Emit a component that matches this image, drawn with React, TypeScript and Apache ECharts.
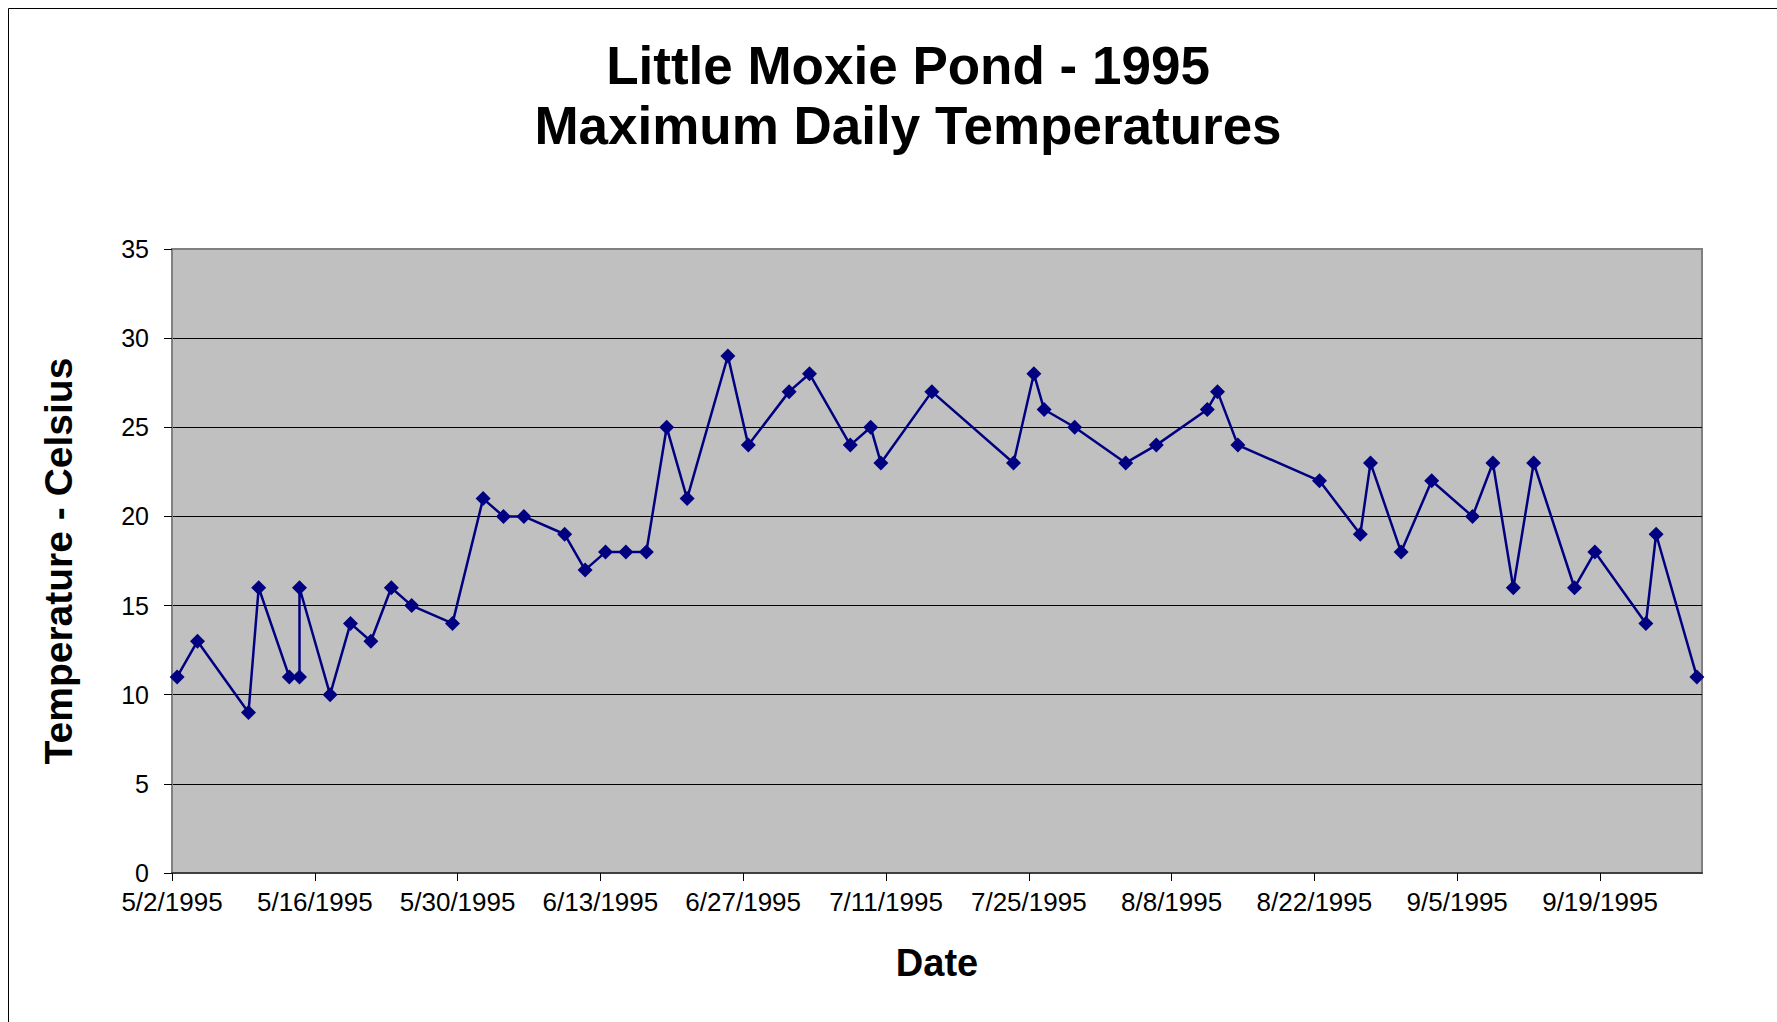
import React, { useEffect, useRef } from "react";
import * as echarts from "echarts";

const titleLines = ["Little Moxie Pond - 1995", "Maximum Daily Temperatures"];
const xAxisTitle = "Date";
const yAxisTitle = "Temperature - Celsius";

const axisStartDate = "5/2/1995";
const axisEndDate = "9/29/1995";
const xTickLabels = [
  "5/2/1995", "5/16/1995", "5/30/1995", "6/13/1995", "6/27/1995", "7/11/1995",
  "7/25/1995", "8/8/1995", "8/22/1995", "9/5/1995", "9/19/1995",
];
const yTicks = [0, 5, 10, 15, 20, 25, 30, 35];

const dates = [
  "5/2/1995", "5/4/1995", "5/9/1995", "5/10/1995", "5/13/1995", "5/14/1995", "5/14/1995",
  "5/17/1995", "5/19/1995", "5/21/1995", "5/23/1995", "5/25/1995", "5/29/1995", "6/1/1995",
  "6/3/1995", "6/5/1995", "6/9/1995", "6/11/1995", "6/13/1995", "6/15/1995", "6/17/1995",
  "6/19/1995", "6/21/1995", "6/25/1995", "6/27/1995", "7/1/1995", "7/3/1995", "7/7/1995",
  "7/9/1995", "7/10/1995", "7/15/1995", "7/23/1995", "7/25/1995", "7/26/1995", "7/29/1995",
  "8/3/1995", "8/6/1995", "8/11/1995", "8/12/1995", "8/14/1995", "8/22/1995", "8/26/1995",
  "8/27/1995", "8/30/1995", "9/2/1995", "9/6/1995", "9/8/1995", "9/10/1995", "9/12/1995",
  "9/16/1995", "9/18/1995", "9/23/1995", "9/24/1995", "9/28/1995",
];
const maxTemps = [
  11, 13, 9, 16, 11, 11, 16,
  10, 14, 13, 16, 15, 14, 21,
  20, 20, 19, 17, 18, 18, 18,
  25, 21, 29, 24, 27, 28, 24,
  25, 23, 27, 23, 28, 26, 25,
  23, 24, 26, 27, 24, 22, 19,
  23, 18, 22, 20, 23, 16, 23,
  16, 18, 14, 19, 11,
];

const DAY = 86400000;
const toUTC = (s: string) => {
  const [m, d, y] = s.split("/").map(Number);
  return Date.UTC(y, m - 1, d);
};
const START = toUTC(axisStartDate);
const dayOf = (s: string) => (toUTC(s) - START) / DAY;
const fmtDay = (v: number) => {
  const t = new Date(START + Math.round(v) * DAY);
  return `${t.getUTCMonth() + 1}/${t.getUTCDate()}/${t.getUTCFullYear()}`;
};

const FONT = '"Liberation Sans", Arial, Helvetica, sans-serif';

export default function App() {
  const ref = useRef<HTMLDivElement>(null);
  useEffect(() => {
    if (!ref.current) return;
    const chart = echarts.init(ref.current, null, { renderer: "svg" });
    const tickDays = xTickLabels.map(dayOf);
    const seriesData = dates.map((d, i) => [dayOf(d) + 0.5, maxTemps[i]]);
    chart.setOption({
      animation: false,
      backgroundColor: "#ffffff",
      graphic: [
        {
          type: "rect",
          silent: true,
          z: -10,
          shape: { x: 8.5, y: 8.5, width: 1800, height: 1100 },
          style: { fill: "none", stroke: "#000", lineWidth: 1 },
        },
        ...titleLines.map((line, i) => ({
          type: "text",
          silent: true,
          x: 908,
          y: 65 + i * 60,
          style: {
            text: line,
            fill: "#000",
            font: `bold 53px ${FONT}`,
            textAlign: "center",
            textVerticalAlign: "middle",
          },
        })),
      ],
      grid: {
        left: 172,
        top: 249,
        width: 1530,
        height: 624,
        show: true,
        backgroundColor: "#C0C0C0",
        borderColor: "#808080",
        borderWidth: 2,
      },
      xAxis: {
        type: "value",
        min: 0,
        max: dayOf(axisEndDate),
        interval: 14,
        name: xAxisTitle,
        nameLocation: "middle",
        nameGap: 71,
        nameTextStyle: { fontFamily: FONT, fontSize: 38, fontWeight: "bold", color: "#000" },
        axisLine: { show: true, lineStyle: { color: "#404040", width: 2 } },
        axisTick: { show: true, length: 8, customValues: tickDays, lineStyle: { color: "#000", width: 1 } },
        axisLabel: {
          customValues: tickDays,
          formatter: (v: number) => fmtDay(v),
          margin: 16,
          fontFamily: FONT,
          fontSize: 26,
          color: "#000",
        },
        splitLine: { show: false },
      },
      yAxis: {
        type: "value",
        min: yTicks[0],
        max: yTicks[yTicks.length - 1],
        interval: 5,
        name: yAxisTitle,
        nameLocation: "middle",
        nameGap: 94,
        nameTextStyle: { fontFamily: FONT, fontSize: 39, fontWeight: "bold", color: "#000" },
        axisLine: { show: true, lineStyle: { color: "#808080", width: 2 } },
        axisTick: { show: true, length: 8, lineStyle: { color: "#000", width: 1 } },
        axisLabel: { margin: 23, fontFamily: FONT, fontSize: 25, color: "#000" },
        splitLine: { show: true, showMinLine: false, showMaxLine: false, lineStyle: { color: "#000", width: 1 } },
      },
      series: [
        {
          type: "line",
          data: seriesData,
          symbol: "diamond",
          symbolSize: 15,
          showAllSymbol: true,
          lineStyle: { color: "#000080", width: 2.5 },
          itemStyle: { color: "#000080" },
        },
      ],
    });
    return () => chart.dispose();
  }, []);
  return (
    <div
      ref={ref}
      style={{ position: "absolute", left: 0, top: 0, width: 1777, height: 1022 }}
    />
  );
}
